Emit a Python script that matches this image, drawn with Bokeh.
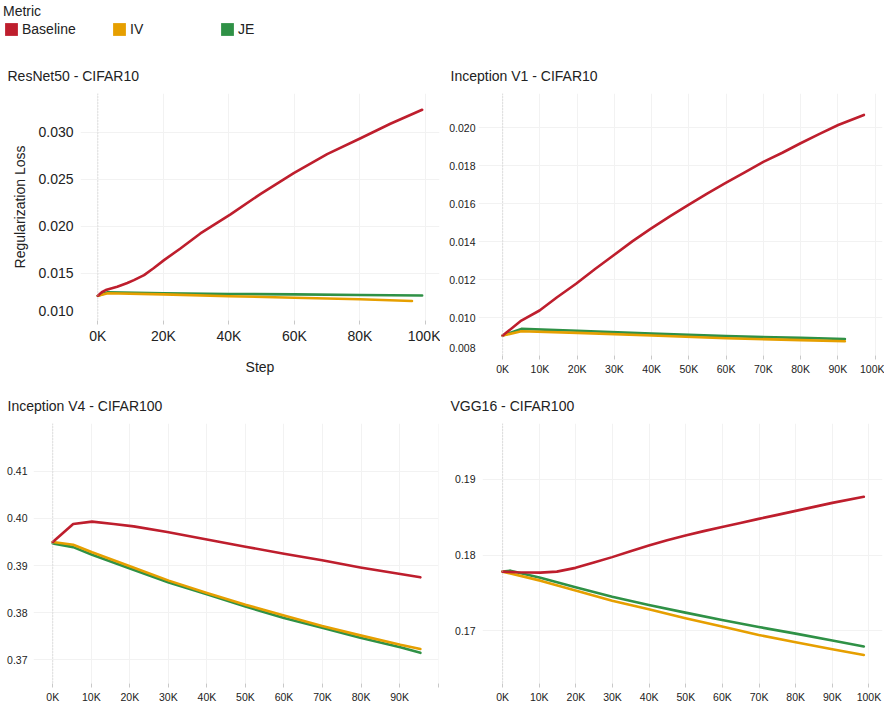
from bokeh.plotting import figure
from bokeh.layouts import column, row
from bokeh.models import FixedTicker, Range1d, Span, Legend, LegendItem, Title
from bokeh.embed import file_html
from bokeh.resources import INLINE

FONT = "Liberation Sans"
TXT = "#222222"
metrics = ["Baseline", "IV", "JE"]
colors = {"Baseline": "#be1e2d", "IV": "#e69f00", "JE": "#2f9146"}

# ---------------- data (steps, regularization loss) ----------------
# ResNet50 - CIFAR10
r50_base_x = [0, 1200, 2400, 5900, 9000, 11000, 14100, 17000, 20200, 25200, 31300, 40500, 49600, 59800, 70000, 80200, 89300, 99000]
r50_base_y = [0.01263, 0.01300, 0.01323, 0.01358, 0.01398, 0.01429, 0.01482, 0.01555, 0.01641, 0.01765, 0.01924, 0.02126, 0.02342, 0.02565, 0.02766, 0.02935, 0.03089, 0.03237]
r50_iv_x = [0, 3000, 20000, 40000, 60000, 80000, 95900]
r50_iv_y = [0.01263, 0.01290, 0.01277, 0.01258, 0.01242, 0.01225, 0.01207]
r50_je_x = [0, 3000, 20000, 40000, 60000, 80000, 99000]
r50_je_y = [0.01263, 0.01300, 0.01289, 0.01282, 0.01277, 0.01271, 0.01266]

# Inception V1 - CIFAR10
iv1_base_x = [0, 5000, 9900, 14600, 19700, 24900, 29800, 34800, 39800, 45100, 50000, 54900, 59900, 65000, 70000, 75100, 80000, 85100, 90100, 97000]
iv1_base_y = [0.00905, 0.00984, 0.01037, 0.01107, 0.01178, 0.01257, 0.01328, 0.01401, 0.01468, 0.01535, 0.01595, 0.01653, 0.01709, 0.01764, 0.01820, 0.01868, 0.01918, 0.01967, 0.02014, 0.02067]
iv1_iv_x = [0, 5000, 20000, 40000, 60000, 80000, 91900]
iv1_iv_y = [0.00905, 0.00928, 0.00919, 0.00905, 0.00891, 0.00881, 0.00875]
iv1_je_x = [0, 5000, 20000, 40000, 60000, 80000, 91900]
iv1_je_y = [0.00905, 0.00940, 0.00930, 0.00915, 0.00902, 0.00893, 0.00887]

# Inception V4 - CIFAR100
iv4_base_x = [0, 5300, 10200, 15800, 21000, 29700, 40000, 50000, 60000, 69900, 79800, 90200, 95400]
iv4_base_y = [0.3950, 0.3988, 0.3993, 0.3988, 0.3983, 0.3971, 0.3955, 0.3940, 0.3925, 0.3911, 0.3896, 0.3882, 0.3875]
iv4_iv_x = [0, 5300, 10200, 20200, 30100, 40000, 50000, 60000, 69900, 79800, 90200, 95400]
iv4_iv_y = [0.3950, 0.3944, 0.3928, 0.3898, 0.3868, 0.3842, 0.3817, 0.3794, 0.3772, 0.3752, 0.3732, 0.3723]
iv4_je_x = [0, 5300, 10200, 20200, 30100, 40000, 50000, 60000, 69900, 79800, 90200, 95400]
iv4_je_y = [0.3947, 0.3939, 0.3923, 0.3893, 0.3864, 0.3839, 0.3813, 0.3789, 0.3768, 0.3747, 0.3727, 0.3715]

# VGG16 - CIFAR100
vgg_base_x = [0, 4000, 10300, 14800, 19900, 24900, 29900, 34900, 39900, 44900, 49900, 54900, 59900, 64900, 69900, 75000, 80000, 85000, 90000, 98600]
vgg_base_y = [0.17780, 0.17771, 0.17767, 0.17780, 0.17830, 0.17900, 0.17972, 0.18050, 0.18125, 0.18195, 0.18258, 0.18316, 0.18370, 0.18424, 0.18478, 0.18531, 0.18584, 0.18637, 0.18690, 0.18771]
vgg_iv_x = [0, 10300, 19900, 29900, 39900, 49900, 59900, 69900, 80000, 90000, 98600]
vgg_iv_y = [0.17780, 0.17661, 0.17529, 0.17396, 0.17282, 0.17163, 0.17053, 0.16943, 0.16846, 0.16753, 0.16678]
vgg_je_x = [0, 2100, 10300, 19900, 29900, 39900, 49900, 59900, 69900, 80000, 90000, 98600]
vgg_je_y = [0.17780, 0.17793, 0.17700, 0.17573, 0.17449, 0.17339, 0.17238, 0.17141, 0.17048, 0.16960, 0.16868, 0.16789]

# ticks
x_ticks_20k = [0, 20000, 40000, 60000, 80000, 100000]
x_labels_20k = ["0K", "20K", "40K", "60K", "80K", "100K"]
x_ticks_10k = [0, 10000, 20000, 30000, 40000, 50000, 60000, 70000, 80000, 90000, 100000]
x_labels_10k = ["0K", "10K", "20K", "30K", "40K", "50K", "60K", "70K", "80K", "90K", "100K"]
x_labels_10k_v4 = ["0K", "10K", "20K", "30K", "40K", "50K", "60K", "70K", "80K", "90K", ""]
r50_y_ticks = [0.010, 0.015, 0.020, 0.025, 0.030]
r50_y_labels = ["0.010\n", "0.015", "0.020", "0.025", "0.030"]
iv1_y_ticks = [0.008, 0.010, 0.012, 0.014, 0.016, 0.018, 0.020]
iv1_y_labels = ["0.008\n", "0.010", "0.012", "0.014", "0.016", "0.018", "0.020"]
iv4_y_ticks = [0.37, 0.38, 0.39, 0.40, 0.41]
iv4_y_labels = ["0.37", "0.38", "0.39", "0.40", "0.41"]
vgg_y_ticks = [0.17, 0.18, 0.19]
vgg_y_labels = ["0.17", "0.18", "0.19"]


def make_panel(title, series, xr, yr, xt, xl, yt, yl, w, h, bl, br, bt, bb,
               fs="10.5px", xlabel=None, ylabel=None, ystand=4, tx=7):
    p = figure(width=w, height=h, toolbar_location=None, output_backend="svg",
               x_range=Range1d(*xr), y_range=Range1d(*yr),
               min_border_left=bl, min_border_right=br, min_border_top=bt, min_border_bottom=bb)
    p.frame_align = False
    p.title = Title(text=title, align="left", offset=tx - bl, text_font_size="14px",
                    text_font_style="normal", text_font=FONT, text_color=TXT, standoff=20)
    p.outline_line_color = None
    p.background_fill_color = "white"
    for ax in (p.xaxis[0], p.yaxis[0]):
        ax.axis_line_color = None
        ax.major_label_text_font = FONT
        ax.major_label_text_font_size = fs
        ax.major_label_text_color = TXT
        ax.minor_tick_line_color = None
        ax.axis_label_text_font = FONT
        ax.axis_label_text_font_size = "14px"
        ax.axis_label_text_font_style = "normal"
        ax.axis_label_text_color = TXT
    p.xaxis.ticker = FixedTicker(ticks=xt)
    p.xaxis.major_label_overrides = {t: l for t, l in zip(xt, xl)}
    p.xaxis.major_tick_line_color = "#c8c8c8"
    p.xaxis.major_tick_out = 4
    p.xaxis.major_tick_in = 0
    p.xaxis.major_label_standoff = 3
    p.yaxis.ticker = FixedTicker(ticks=yt)
    p.yaxis.major_label_overrides = {t: l for t, l in zip(yt, yl)}
    p.yaxis.major_tick_line_color = None
    p.yaxis.major_tick_out = 0
    p.yaxis.major_tick_in = 0
    p.yaxis.major_label_standoff = ystand
    if xlabel:
        p.xaxis.axis_label = xlabel
        p.xaxis.axis_label_standoff = 12
    if ylabel:
        p.yaxis.axis_label = ylabel
        p.yaxis.axis_label_standoff = 7
    p.grid.grid_line_color = "#f2f2f2"
    p.grid.grid_line_width = 1
    p.add_layout(Span(location=0, dimension="height", line_color="#c8c8c8",
                      line_dash="1 2", line_width=1))
    rs = {}
    for m in ["JE", "IV", "Baseline"]:
        x, y = series[m]
        rs[m] = p.line(x, y, line_color=colors[m], line_width=2.6, line_cap="round", line_join="round")
    return p, rs


p1, rs1 = make_panel("ResNet50 - CIFAR10",
                     {"Baseline": (r50_base_x, r50_base_y), "IV": (r50_iv_x, r50_iv_y), "JE": (r50_je_x, r50_je_y)},
                     (-5300, 104300), (0.0100, 0.0341), x_ticks_20k, x_labels_20k, r50_y_ticks, r50_y_labels,
                     440, 330, 80, 1, 38, 65, fs="14px", xlabel="Step", ylabel="Regularization Loss", ystand=7)
p2, _ = make_panel("Inception V1 - CIFAR10",
                   {"Baseline": (iv1_base_x, iv1_base_y), "IV": (iv1_iv_x, iv1_iv_y), "JE": (iv1_je_x, iv1_je_y)},
                   (-6500, 102000), (0.0080, 0.0218), x_ticks_10k, x_labels_10k, iv1_y_ticks, iv1_y_labels,
                   444, 330, 38, 2, 38, 30, ystand=3, tx=10)
p3, _ = make_panel("Inception V4 - CIFAR100",
                   {"Baseline": (iv4_base_x, iv4_base_y), "IV": (iv4_iv_x, iv4_iv_y), "JE": (iv4_je_x, iv4_je_y)},
                   (-5000, 100100), (0.365, 0.4201), x_ticks_10k, x_labels_10k_v4, iv4_y_ticks, iv4_y_labels,
                   440, 320, 33, 2, 38, 22, ystand=6)
p4, _ = make_panel("VGG16 - CIFAR100",
                   {"Baseline": (vgg_base_x, vgg_base_y), "IV": (vgg_iv_x, vgg_iv_y), "JE": (vgg_je_x, vgg_je_y)},
                   (-5500, 103700), (0.163, 0.1974), x_ticks_10k, x_labels_10k, vgg_y_ticks, vgg_y_labels,
                   444, 320, 42, 2, 38, 21, ystand=7, tx=10)

# legend strip
lf = figure(width=884, height=55, toolbar_location=None, output_backend="svg",
            x_range=(0, 1), y_range=(0, 1), min_border=0)
lf.axis.visible = False
lf.grid.visible = False
lf.outline_line_color = None
items = []
for m in metrics:
    r = lf.quad(left=[5], right=[6], top=[5], bottom=[6], fill_color=colors[m], line_color=None)
    items.append(LegendItem(label=m, renderers=[r]))
legend = Legend(items=items, orientation="horizontal", title="Metric", location="top_left",
                glyph_width=16, glyph_height=16, label_standoff=3, spacing=10, label_width=79,
                padding=6, margin=3, border_line_color=None, background_fill_alpha=0,
                label_text_font=FONT, label_text_font_size="14px", label_text_color=TXT,
                title_text_font=FONT, title_text_font_size="14px", title_text_color=TXT,
                title_text_font_style="normal", title_standoff=2, label_height=16)
lf.add_layout(legend)

layout = column(lf, row(p1, p2), row(p3, p4))
open("out.html", "w").write(file_html(layout, INLINE))
